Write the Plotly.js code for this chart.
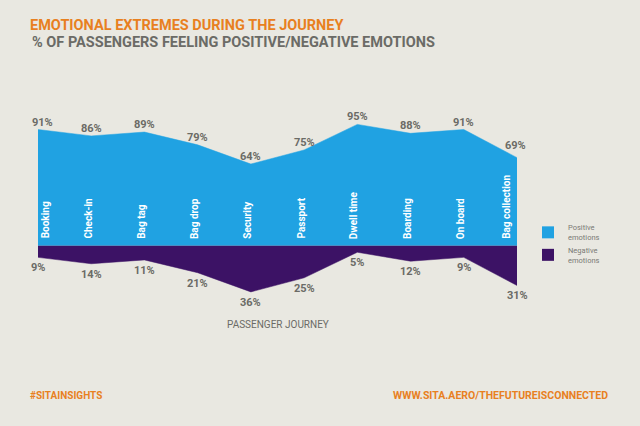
<!DOCTYPE html>
<html><head><meta charset="utf-8">
<script src="https://cdn.plot.ly/plotly-3.0.1.min.js"></script>
<style>html,body{margin:0;padding:0;background:#e9e8e1;}#chart{width:640px;height:426px;}</style>
</head><body><div id="chart"></div>
<script>
const categories = ["Booking","Check-in","Bag tag","Bag drop","Security","Passport","Dwell time","Boarding","On board","Bag collection"];
const positive = [91,86,89,79,64,75,95,88,91,69];
const negative = [9,14,11,21,36,25,5,12,9,31];
const legendNames = ["Positive<br>emotions","Negative<br>emotions"];

const BLUE = "#20a2e2", PURPLE = "#3c1265", ORANGE = "#e8801f", GREY = "#6b6b66";
const xs = categories.map((c,i)=>i);
const labelFont = {family:"Roboto, sans-serif", size:11, color:GREY, weight:700};

const traces = [
  {x:xs, y:positive, type:"scatter", mode:"lines", fill:"tozeroy", fillcolor:BLUE,
   line:{color:BLUE,width:0.5}, showlegend:false, hoverinfo:"skip"},
  {x:xs, y:negative.map(v=>-v), type:"scatter", mode:"lines", fill:"tozeroy", fillcolor:PURPLE,
   line:{color:PURPLE,width:0.5}, showlegend:false, hoverinfo:"skip"},
  {x:[null], y:[null], type:"scatter", mode:"markers", name:legendNames[0],
   marker:{symbol:"square", size:12, color:BLUE}},
  {x:[null], y:[null], type:"scatter", mode:"markers", name:legendNames[1],
   marker:{symbol:"square", size:12, color:PURPLE}}
];

const last = categories.length-1;
const annotations = categories.map((c,i)=>({
  x:i, y:0, xref:"x", yref:"y", text:c, showarrow:false, textangle:-90,
  xanchor:"center", yanchor:"bottom", yshift:5,
  xshift: i===0 ? 7 : (i===last ? -10 : -3),
  font:{family:"Roboto, sans-serif", size:10, color:"#ffffff", weight:700}
}));
positive.forEach((v,i)=>annotations.push({
  x:i, y:v, xref:"x", yref:"y", text:v+"%", showarrow:false,
  xanchor:"center", yanchor:"bottom", yshift: i===last ? 4 : -1, xshift: i===0 ? 4 : (i===last ? -2 : 0),
  font:labelFont}));
negative.forEach((v,i)=>annotations.push({
  x:i, y:-v, xref:"x", yref:"y", text:v+"%", showarrow:false,
  xanchor:"center", yanchor:"top", yshift:-2,
  font:labelFont}));
annotations.push(
  {xref:"paper", yref:"paper", x:-0.0167, y:(297-42)/179, xanchor:"left", yanchor:"middle", showarrow:false,
   text:"% OF PASSENGERS FEELING POSITIVE/NEGATIVE EMOTIONS",
   font:{family:"Roboto, sans-serif", size:14.5, color:GREY, weight:700}},
  {xref:"paper", yref:"paper", x:0.5, y:-0.156, xanchor:"center", yanchor:"middle", showarrow:false,
   text:"PASSENGER JOURNEY", font:{family:"Roboto, sans-serif", size:10, color:GREY}},
  {xref:"paper", yref:"paper", x:-0.0209, y:-0.553, xanchor:"left", yanchor:"middle", showarrow:false,
   text:"#SITAINSIGHTS", font:{family:"Roboto, sans-serif", size:10, color:ORANGE, weight:700}},
  {xref:"paper", yref:"paper", x:1.194, y:-0.553, xanchor:"right", yanchor:"middle", showarrow:false,
   text:"WWW.SITA.AERO/THEFUTUREISCONNECTED", font:{family:"Roboto, sans-serif", size:10.5, color:ORANGE, weight:700}}
);

const layout = {
  width:640, height:426,
  paper_bgcolor:"#e9e8e1", plot_bgcolor:"#e9e8e1",
  margin:{l:38, r:123, t:118, b:129, pad:0},
  title:{text:"EMOTIONAL EXTREMES DURING THE JOURNEY", xref:"container", yref:"container",
    x:30/640, xanchor:"left", y:1-24.5/426, yanchor:"middle",
    font:{family:"Roboto, sans-serif", size:14.5, color:ORANGE, weight:700}},
  xaxis:{range:[0,9], showgrid:false, zeroline:false, showticklabels:false, showline:false, ticks:""},
  yaxis:{range:[-40,100], showgrid:false, zeroline:false, showticklabels:false, showline:false, ticks:""},
  legend:{x:1.023, y:0.452, xanchor:"left", yanchor:"top", bgcolor:"rgba(0,0,0,0)",
    font:{family:"Roboto, sans-serif", size:7.5, color:"#7a7a75"}, tracegroupgap:0},
  annotations:annotations,
  showlegend:true
};
Plotly.newPlot("chart", traces, layout, {displayModeBar:false, staticPlot:true});
</script></body></html>
